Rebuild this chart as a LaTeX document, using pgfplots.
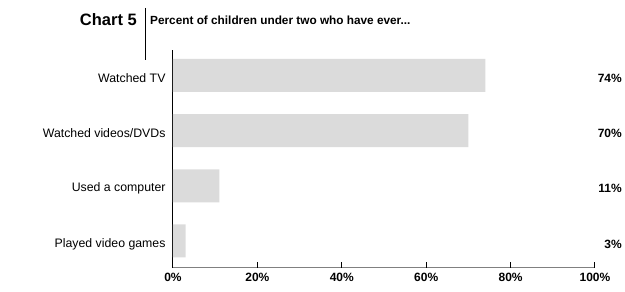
\documentclass[border=0pt]{standalone}
\usepackage{pgfplots}
\pgfplotsset{compat=1.18}
\usepackage{fontspec}
\setmainfont{Liberation Sans}
\begin{document}
\begin{tikzpicture}[x=1pt,y=1pt]
\useasboundingbox (0,0) rectangle (625,292);
\begin{axis}[
  at={(173pt,24pt)}, anchor=south west,
  scale only axis, width=422pt, height=218pt,
  xmin=0, xmax=100, ymin=-0.49, ymax=3.46,
  clip=false,
  axis x line*=bottom, axis y line*=left,
  x axis line style={draw=none},
  y axis line style={black, line width=1pt, -},
  major tick length=0pt,
  xtick={0,20,40,60,80,100},
  xticklabels={0\%,20\%,40\%,60\%,80\%,100\%},
  xticklabel style={font=\bfseries\fontsize{12}{14}\selectfont, yshift=-2pt},
  ytick={0,1,2,3},
  yticklabels={Played video games,Used a computer,Watched videos/DVDs,Watched TV},
  y tick style={draw=none},
  yticklabel style={font=\fontsize{12.3}{14}\selectfont, xshift=-4pt, yshift=-3pt},
]
\addplot[xbar, bar width=33pt, fill=black!14, draw=none] coordinates {(74,3) (70,2) (11,1) (3,0)};
\addplot[draw=none, mark=none, point meta=explicit symbolic,
  nodes near coords={\pgfplotspointmeta\%},
  every node near coord/.append style={anchor=east, yshift=-3pt, font=\bfseries\fontsize{12}{14}\selectfont, inner sep=0pt}]
  coordinates {(106.4,3)[74] (106.4,2)[70] (106.4,1)[11] (106.4,0)[3]};
\draw[black!50, line width=1pt] (rel axis cs:0,0.004) -- (rel axis cs:1,0.004);
\draw[black, line width=1pt] (rel axis cs:0.2,0) -- (rel axis cs:0.2,0.0275);
\draw[black, line width=1pt] (rel axis cs:0.4,0) -- (rel axis cs:0.4,0.0275);
\draw[black, line width=1pt] (rel axis cs:0.6,0) -- (rel axis cs:0.6,0.0275);
\draw[black, line width=1pt] (rel axis cs:0.8,0) -- (rel axis cs:0.8,0.0275);
\draw[black, line width=1pt] (rel axis cs:1,0) -- (rel axis cs:1,0.0275);
\end{axis}
\node[anchor=east, font=\bfseries\fontsize{16.5}{18}\selectfont, inner sep=0pt] at (137,272) {Chart 5};
\draw[black, line width=1pt] (145,284) -- (145,232);
\node[anchor=west, font=\bfseries\fontsize{11.8}{14}\selectfont, inner sep=0pt] at (150,272) {Percent of children under two who have ever...};
\end{tikzpicture}
\end{document}
